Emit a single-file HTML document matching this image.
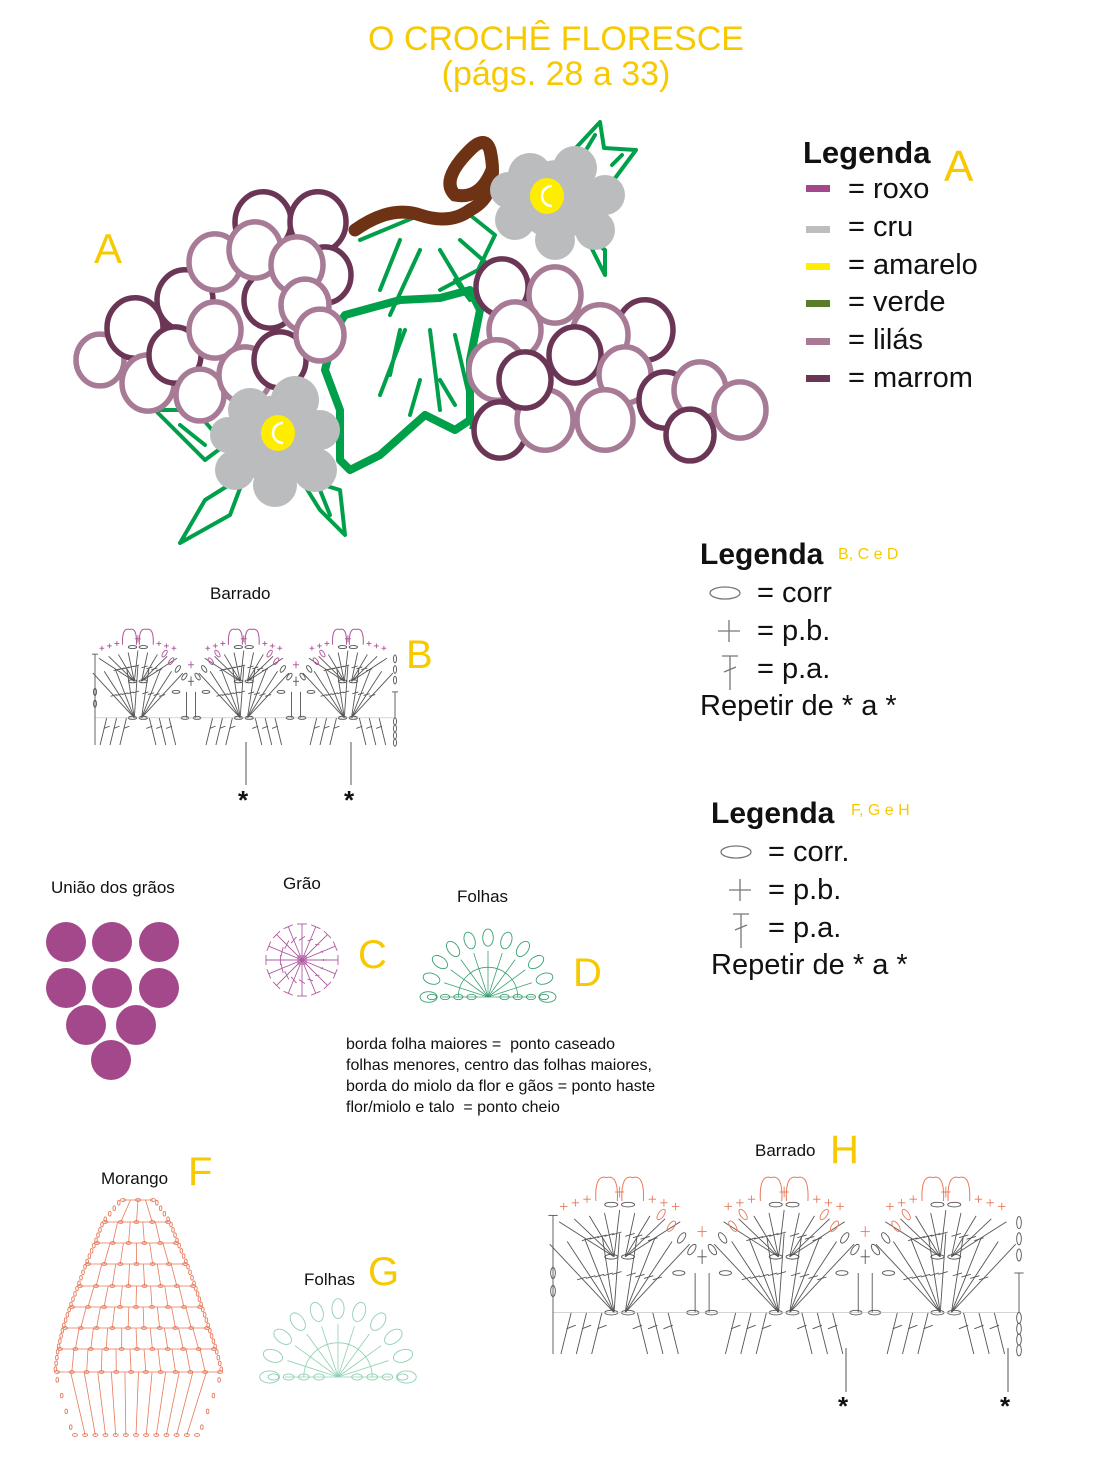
<!DOCTYPE html>
<html><head><meta charset="utf-8">
<style>
html,body{margin:0;padding:0;background:#fff;}
body{width:1101px;height:1477px;overflow:hidden;position:relative;font-family:"Liberation Sans",sans-serif;}
svg{position:absolute;left:0;top:0;}
.t{position:absolute;white-space:nowrap;line-height:1;}
</style></head><body>
<svg id="s" width="1101" height="1477" viewBox="0 0 1101 1477">
<g fill="none" stroke="#00a04a" stroke-width="4" stroke-linejoin="round" stroke-linecap="round">
<path d="M560 165 L600 122 L604 148 L636 150 L610 185"/>
<path d="M580 160 L595 135 M612 165 L622 155"/>
<path d="M585 235 L605 250 L605 275 Z"/>
<path d="M155 410 L195 410 L225 445 L205 460 Z"/>
<path d="M180 425 L205 445"/>
<path d="M245 475 L205 500 L180 543 L230 515 Z"/>
<path d="M300 478 L320 510 L345 535 L340 490 Z"/>
<path d="M320 490 L330 515"/>
<path d="M360 240 L420 215 L470 215 L495 235 L478 270 L440 290"/>
<path d="M400 240 L380 290 M420 250 L390 315 M440 250 L470 300 M460 240 L500 275 M455 280 L470 300"/>
<path d="M400 330 L390 375 M405 330 L380 395 M430 330 L440 410 M455 335 L470 400 M420 380 L410 415 M440 380 L455 405"/>
</g>
<path d="M345 315 L400 300 L440 298 L470 290 L480 310 L470 360 L470 420 L455 430 L425 415 L380 455 L350 470 L340 460 L340 410 L325 370 L335 330 Z" fill="none" stroke="#00a04a" stroke-width="8" stroke-linejoin="round"/>
<path d="M470 425 L495 430" stroke="#00a04a" stroke-width="8"/>
<path d="M355 230 Q390 205 420 215 Q450 225 470 210 Q500 195 490 150 M490 150 Q485 135 470 150 Q440 180 455 195 Q480 200 492 170" fill="none" stroke="#6e3314" stroke-width="13" stroke-linecap="round"/>
<g id="grapes" fill="#fff" stroke-width="5.5"></g>
<g fill="#bbbcbe">
<circle cx="557" cy="200" r="40"/><circle cx="530" cy="175" r="22"/><circle cx="575" cy="168" r="22"/><circle cx="605" cy="195" r="20"/><circle cx="595" cy="230" r="20"/><circle cx="555" cy="240" r="20"/><circle cx="515" cy="220" r="20"/><circle cx="508" cy="190" r="18"/>
<circle cx="278" cy="440" r="45"/><circle cx="250" cy="410" r="22"/><circle cx="295" cy="400" r="24"/><circle cx="320" cy="430" r="20"/><circle cx="315" cy="470" r="22"/><circle cx="275" cy="485" r="22"/><circle cx="235" cy="470" r="20"/><circle cx="228" cy="435" r="18"/>
</g>
<ellipse cx="547" cy="196" rx="17" ry="18" fill="#ffed00"/><path d="M552 186 A10 10 0 0 0 552 206" fill="none" stroke="#fff" stroke-width="2.5"/>
<ellipse cx="278" cy="433" rx="17" ry="18" fill="#ffed00"/><path d="M283 423 A10 10 0 0 0 283 443" fill="none" stroke="#fff" stroke-width="2.5"/>
<rect x="806" y="185" width="24" height="7" fill="#a3488a"/>
<rect x="806" y="226" width="24" height="7" fill="#bdbdbd"/>
<rect x="806" y="263" width="24" height="7" fill="#ffed00"/>
<rect x="806" y="300" width="24" height="7" fill="#5a7d2a"/>
<rect x="806" y="338" width="24" height="7" fill="#a77b95"/>
<rect x="806" y="375" width="24" height="7" fill="#6b3656"/>
<g fill="none" stroke="#777" stroke-width="1.3">
<ellipse cx="725" cy="593" rx="15" ry="6"/>
<path d="M718 631 H740 M729 620 V642"/>
<path d="M722 656 H738 M730 656 V690 M724 672 L736 667"/>
<ellipse cx="736" cy="852" rx="15" ry="6"/>
<path d="M729 890 H751 M740 879 V901"/>
<path d="M733 914 H749 M741 914 V948 M735 930 L747 925"/>
</g>
<g fill="#a3488a">
<circle cx="66" cy="942" r="20"/><circle cx="112" cy="942" r="20"/><circle cx="159" cy="942" r="20"/>
<circle cx="66" cy="988" r="20"/><circle cx="112" cy="988" r="20"/><circle cx="159" cy="988" r="20"/>
<circle cx="86" cy="1025" r="20"/><circle cx="136" cy="1025" r="20"/><circle cx="111" cy="1060" r="20"/>
</g>
<g id="charts"></g>
<g stroke="#555" stroke-width="1"><path d="M246 742 V785 M351 742 V785 M846 1348 V1392 M1008 1348 V1392"/></g>
</svg>

<div class="t" style="left:0;width:1112px;text-align:center;top:22px;font-size:34px;color:#f7c900;">O CROCHÊ FLORESCE</div>
<div class="t" style="left:0;width:1112px;text-align:center;top:57px;font-size:34px;color:#f7c900;">(págs. 28 a 33)</div>
<div class="t" style="left:94px;top:228px;font-size:42px;color:#f7c900;">A</div>
<div class="t" style="left:803px;top:137px;font-size:31px;font-weight:bold;color:#111;">Legenda</div>
<div class="t" style="left:944px;top:145px;font-size:44px;color:#f7c900;">A</div>
<div class="t" style="left:848px;top:175px;font-size:29px;color:#111;">= roxo</div>
<div class="t" style="left:848px;top:213px;font-size:29px;color:#111;">= cru</div>
<div class="t" style="left:848px;top:251px;font-size:29px;color:#111;">= amarelo</div>
<div class="t" style="left:848px;top:288px;font-size:29px;color:#111;">= verde</div>
<div class="t" style="left:848px;top:326px;font-size:29px;color:#111;">= lilás</div>
<div class="t" style="left:848px;top:364px;font-size:29px;color:#111;">= marrom</div>

<div class="t" style="left:700px;top:540px;font-size:30px;font-weight:bold;color:#111;">Legenda</div>
<div class="t" style="left:838px;top:547px;font-size:16px;color:#f7c900;">B, C e D</div>
<div class="t" style="left:757px;top:579px;font-size:29px;color:#111;">= corr</div>
<div class="t" style="left:757px;top:617px;font-size:29px;color:#111;">= p.b.</div>
<div class="t" style="left:757px;top:655px;font-size:29px;color:#111;">= p.a.</div>
<div class="t" style="left:700px;top:692px;font-size:29px;color:#111;">Repetir de * a *</div>

<div class="t" style="left:711px;top:799px;font-size:30px;font-weight:bold;color:#111;">Legenda</div>
<div class="t" style="left:851px;top:803px;font-size:16px;color:#f7c900;">F, G e H</div>
<div class="t" style="left:768px;top:838px;font-size:29px;color:#111;">= corr.</div>
<div class="t" style="left:768px;top:876px;font-size:29px;color:#111;">= p.b.</div>
<div class="t" style="left:768px;top:914px;font-size:29px;color:#111;">= p.a.</div>
<div class="t" style="left:711px;top:951px;font-size:29px;color:#111;">Repetir de * a *</div>

<div class="t" style="left:210px;top:585px;font-size:17px;color:#111;">Barrado</div>
<div class="t" style="left:406px;top:635px;font-size:40px;color:#f7c900;">B</div>
<div class="t" style="left:238px;top:787px;font-size:26px;font-weight:bold;color:#111;">*</div>
<div class="t" style="left:344px;top:787px;font-size:26px;font-weight:bold;color:#111;">*</div>
<div class="t" style="left:51px;top:879px;font-size:17px;color:#111;">União dos grãos</div>
<div class="t" style="left:283px;top:875px;font-size:17px;color:#111;">Grão</div>
<div class="t" style="left:358px;top:935px;font-size:40px;color:#f7c900;">C</div>
<div class="t" style="left:457px;top:888px;font-size:17px;color:#111;">Folhas</div>
<div class="t" style="left:573px;top:953px;font-size:40px;color:#f7c900;">D</div>
<div class="t" style="left:346px;top:1034px;font-size:16px;color:#111;line-height:21px;">borda folha maiores =&nbsp; ponto caseado<br>folhas menores, centro das folhas maiores,<br>borda do miolo da flor e gãos = ponto haste<br>flor/miolo e talo&nbsp; = ponto cheio</div>
<div class="t" style="left:101px;top:1170px;font-size:17px;color:#111;">Morango</div>
<div class="t" style="left:188px;top:1152px;font-size:40px;color:#f7c900;">F</div>
<div class="t" style="left:304px;top:1271px;font-size:17px;color:#111;">Folhas</div>
<div class="t" style="left:368px;top:1252px;font-size:40px;color:#f7c900;">G</div>
<div class="t" style="left:755px;top:1142px;font-size:17px;color:#111;">Barrado</div>
<div class="t" style="left:830px;top:1130px;font-size:40px;color:#f7c900;">H</div>
<div class="t" style="left:838px;top:1393px;font-size:26px;font-weight:bold;color:#111;">*</div>
<div class="t" style="left:1000px;top:1393px;font-size:26px;font-weight:bold;color:#111;">*</div>

<script>
var NS="http://www.w3.org/2000/svg";
function el(p,t,a){var e=document.createElementNS(NS,t);for(var k in a)e.setAttribute(k,a[k]);p.appendChild(e);return e;}
var G=document.getElementById("grapes");
var L="#a77b95",D="#6b3656";
var gr=[[100,360,24,L],[135,328,28,D],[148,383,26,L],[185,300,28,D],[175,355,26,D],[200,395,24,L],[215,330,26,L],[215,262,26,L],[245,375,26,L],[270,300,26,D],[263,222,28,D],[255,250,26,L],[318,222,28,D],[280,360,26,D],[325,275,26,D],[297,265,26,L],[305,305,24,L],[320,335,24,L],
[502,287,26,D],[555,295,26,L],[515,330,26,L],[645,330,28,D],[600,335,28,L],[575,355,26,D],[497,370,28,L],[500,430,26,D],[545,420,28,L],[625,375,26,L],[525,380,26,D],[665,400,26,D],[605,420,28,L],[700,390,26,L],[690,435,24,D],[740,410,26,L]];
gr.forEach(function(g){el(G,"ellipse",{cx:g[0],cy:g[1],rx:g[2]*1.0,ry:g[2]*1.08,stroke:g[3]});});
var C=document.getElementById("charts");
function ln(x1,y1,x2,y2,c,w){el(C,"line",{x1:x1,y1:y1,x2:x2,y2:y2,stroke:c,"stroke-width":w||0.9});}
function ov(x,y,rx,ry,c,rot){var e=el(C,"ellipse",{cx:x,cy:y,rx:rx,ry:ry,fill:"none",stroke:c,"stroke-width":0.9});if(rot)e.setAttribute("transform","rotate("+rot+" "+x+" "+y+")");}
function barrado(x0,y0,W,H,acc){
 var g="#555",fx=[0.143,0.496,0.843],vx=[0.32,0.67];
 var u=W/100;
 fx.forEach(function(f){
  var cx=x0+f*W;
  for(var i=0;i<9;i++){var a=-0.13+i*0.0325;var tx=cx+a*W,ty=y0+H*(0.2+Math.abs(a)*0.5);var bx=cx+(i<4.5?-1:1)*u*1.2;ln(bx,y0+H*0.46,tx,ty,g);var mx=(bx+tx)/2,my=(y0+H*0.46+ty)/2;ln(mx-u,my+u*0.3,mx+u,my-u*0.3,g);}
  for(var i=0;i<9;i++){var a=-0.15+i*0.0375;var tx=cx+a*W,ty=y0+H*(0.33+Math.abs(a)*0.4);var bx=cx+(i<4.5?-1:1)*u*1.2;ln(bx,y0+H*0.77,tx,ty,g);var mx=(bx+tx)/2,my=(y0+H*0.77+ty)/2;ln(mx-u,my+u*0.3,mx+u,my-u*0.3,g);}
  ov(cx-u*1.8,y0+H*0.46,u*1.4,u*0.5,g);ov(cx+u*1.8,y0+H*0.46,u*1.4,u*0.5,g);
  ov(cx-u*1.8,y0+H*0.77,u*1.4,u*0.5,g);ov(cx+u*1.8,y0+H*0.77,u*1.4,u*0.5,g);
  ov(cx-u*1.8,y0+H*0.17,u*1.4,u*0.5,g);ov(cx+u*1.8,y0+H*0.17,u*1.4,u*0.5,g);
  [-1,1].forEach(function(s){for(var k=0;k<3;k++){var bx=cx+s*(0.05+k*0.033)*W;var tx=bx-s*0.012*W;ln(tx,y0+H*0.77,bx+s*0.01*W,y0+H,g);ln(tx-u,(y0+H*0.86),tx+u,y0+H*0.84,g);}});
  [-1,1].forEach(function(s){var lx=cx+s*0.028*W;el(C,"path",{d:"M"+(lx-u*2.3)+" "+(y0+H*0.15)+" Q"+(lx-u*2.6)+" "+y0+" "+lx+" "+(y0+H*0.02)+" Q"+(lx+u*2.6)+" "+y0+" "+(lx+u*2.3)+" "+(y0+H*0.15),fill:"none",stroke:acc,"stroke-width":1});
   for(var k=0;k<3;k++){var px=cx+s*(0.07+k*0.025)*W,py=y0+H*(0.14+k*0.02);ln(px-u*0.8,py,px+u*0.8,py,acc);ln(px,py-u*0.8,px,py+u*0.8,acc);}});
  ln(cx-u,y0+H*0.1,cx+u,y0+H*0.1,acc);ln(cx,y0+H*0.07,cx,y0+H*0.13,acc);
 });
 vx.forEach(function(v){var cx=x0+v*W;
  for(var k=0;k<4;k++){var d=(k+1)*0.022;ov(cx-d*W,y0+H*(0.42-k*0.065),u*0.6,u*1.3,k<2?g:acc,35);ov(cx+d*W,y0+H*(0.42-k*0.065),u*0.6,u*1.3,k<2?g:acc,-35);}
  ln(cx-u,y0+H*0.32,cx+u,y0+H*0.32,acc);ln(cx,y0+H*0.29,cx,y0+H*0.35,acc);
  ln(cx-u,y0+H*0.46,cx+u,y0+H*0.46,g);ln(cx,y0+H*0.42,cx,y0+H*0.5,g);
  ln(cx-u*1.5,y0+H*0.55,cx-u*1.5,y0+H*0.77,g);ln(cx+u*1.5,y0+H*0.55,cx+u*1.5,y0+H*0.77,g);
  ov(cx-u*5,y0+H*0.55,u*1.3,u*0.5,g);ov(cx+u*5,y0+H*0.55,u*1.3,u*0.5,g);
  ov(cx-u*2,y0+H*0.77,u*1.3,u*0.5,g);ov(cx+u*2,y0+H*0.77,u*1.3,u*0.5,g);
 });
 ln(x0,y0+H*0.77,x0+W,y0+H*0.77,"#bbb",0.6);
 ln(x0,y0+H*0.23,x0,y0+H,g);ln(x0-u,y0+H*0.23,x0+u,y0+H*0.23,g);
 ov(x0,y0+H*0.55,u*0.5,u*1.2,g);ov(x0,y0+H*0.65,u*0.5,u*1.2,g);
 var rx=x0+W;for(var k=0;k<3;k++)ov(rx,y0+H*(0.27+k*0.09),u*0.5,u*1.3,g);
 ln(rx,y0+H*0.55,rx,y0+H*0.77,g);ln(rx-u,y0+H*0.55,rx+u,y0+H*0.55,g);
 for(var k=0;k<4;k++)ov(rx,y0+H*(0.8+k*0.06),u*0.5,u*1.2,g);
}
barrado(95,627,300,118,"#b0529c");
barrado(553,1174,466,180,"#e8795a");
(function(){var cx=302,cy=960,R=36,c="#b05aa0";for(var i=0;i<16;i++){var a=i*Math.PI/8;var x=cx+R*Math.cos(a),y=cy+R*Math.sin(a);ln(cx,cy,x,y,c);var px=-Math.sin(a)*5,py=Math.cos(a)*5;ln(x-px,y-py,x+px,y+py,c);var mx=cx+R*0.6*Math.cos(a),my=cy+R*0.6*Math.sin(a);ln(mx-px*0.6,my-py*0.6+2,mx+px*0.6,my+py*0.6-2,c);}el(C,"rect",{x:cx-4,y:cy-4,width:8,height:8,fill:"none",stroke:c});})();
function folha(cx,cy,R,c){for(var i=0;i<=10;i++){var a=Math.PI+i*Math.PI/10;var x=cx+R*0.7*Math.cos(a),y=cy+R*0.7*Math.sin(a);ln(cx,cy,x,y,c,0.8);var lx=cx+R*0.9*Math.cos(a),ly=cy+R*0.9*Math.sin(a);ov(lx,ly,R*0.08,R*0.13,c,i*18-90);}
 for(var k=1;k<5;k++){ov(cx-R*0.2*k-R*0.05,cy,R*0.07,R*0.04,c);ov(cx+R*0.2*k+R*0.05,cy,R*0.07,R*0.04,c);}
 el(C,"path",{d:"M"+(cx-R*0.45)+" "+cy+" A"+R*0.45+" "+R*0.45+" 0 0 1 "+(cx+R*0.45)+" "+cy,fill:"none",stroke:c,"stroke-width":0.8});}
folha(488,997,66,"#3aa070");
folha(338,1377,76,"#8fd0b0");
(function(){var c="#e8795a";var rows=[[1200,123,153],[1222,105,168],[1243,97,176],[1264,88,185],[1286,80,193],[1307,72,200],[1328,65,207],[1349,60,214],[1372,57,220],[1435,75,197]];
 for(var r=0;r<rows.length;r++){var R=rows[r];var n=r==0?2:Math.min(3+r,12);if(r<rows.length-1)ln(R[1],R[0],R[2],R[0],c,0.7);
  for(var k=0;k<=n;k++){var x=R[1]+(R[2]-R[1])*k/n;ov(x,R[0],2.5,1.4,c);}
  if(r>0){var P=rows[r-1];var m=Math.min(3+r,12);for(var k=1;k<m;k++){var xb=R[1]+(R[2]-R[1])*k/m,xt=P[1]+(P[2]-P[1])*k/m;ln(xt,P[0],xb,R[0],c,0.8);}
   for(var k=0;k<4;k++){var t=(k+0.5)/4;ov(P[1]+(R[1]-P[1])*t-2,P[0]+(R[0]-P[0])*t,1.3,2.3,c);ov(P[2]+(R[2]-P[2])*t+2,P[0]+(R[0]-P[0])*t,1.3,2.3,c);}}}
})();
</script>
</body></html>
